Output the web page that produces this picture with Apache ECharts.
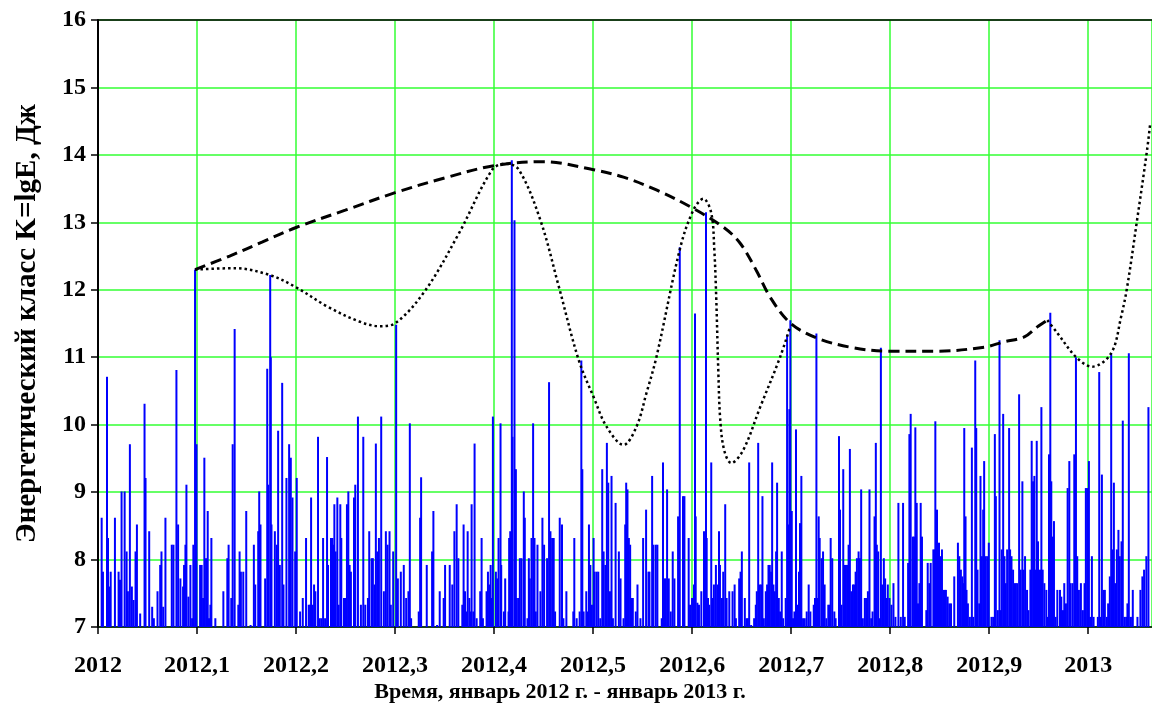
<!DOCTYPE html>
<html><head><meta charset="utf-8">
<script src="https://cdn.jsdelivr.net/npm/echarts@6/dist/echarts.min.js"></script>
<style>html,body{margin:0;padding:0;background:#fff}#c{width:1152px;height:727px}</style>
</head><body><div id="c"></div>
<script>
// ---- data ----
const xTickLabels = ['2012','2012,1','2012,2','2012,3','2012,4','2012,5','2012,6','2012,7','2012,8','2012,9','2013'];
const yTickValues = [7,8,9,10,11,12,13,14,15,16];

// seismic events: [decimal year, energy class K]
const events = [
[2012.0037,8.62],[2012.0050,7.82],[2012.0091,10.71],[2012.0101,8.32],[2012.0117,7.60],[2012.0128,7.82],[2012.0171,8.62],[2012.0208,7.82],[2012.0222,7.70],[2012.0238,9.01],
[2012.0269,9.01],[2012.0289,8.12],[2012.0302,7.53],[2012.0322,9.71],[2012.0342,7.60],[2012.0359,7.40],[2012.0379,8.12],[2012.0393,8.52],[2012.0426,7.20],[2012.0470,10.31],
[2012.0480,9.21],[2012.0517,8.42],[2012.0547,7.30],[2012.0564,7.13],[2012.0601,7.53],[2012.0628,7.92],[2012.0641,8.12],[2012.0658,7.30],[2012.0681,8.62],[2012.0745,8.22],
[2012.0762,8.22],[2012.0792,10.81],[2012.0809,8.52],[2012.0832,7.72],[2012.0859,7.60],[2012.0869,7.92],[2012.0883,8.22],[2012.0893,9.11],[2012.0913,7.45],[2012.0933,7.92],
[2012.0950,7.13],[2012.0963,8.22],[2012.0980,12.30],[2012.0995,9.71],[2012.1031,7.92],[2012.1047,7.92],[2012.1061,7.43],[2012.1074,9.51],[2012.1091,8.02],[2012.1108,8.72],
[2012.1121,7.13],[2012.1135,7.33],[2012.1145,8.32],[2012.1185,7.13],[2012.1266,7.53],[2012.1306,8.02],[2012.1319,8.22],[2012.1346,7.43],[2012.1360,9.71],[2012.1380,11.42],
[2012.1417,7.33],[2012.1430,8.12],[2012.1443,7.82],[2012.1467,7.82],[2012.1497,8.72],[2012.1541,7.03],[2012.1574,8.22],[2012.1588,7.63],[2012.1618,8.42],[2012.1628,9.01],
[2012.1641,8.52],[2012.1688,7.72],[2012.1709,10.83],[2012.1719,9.11],[2012.1739,12.22],[2012.1745,11.00],[2012.1752,8.52],[2012.1786,8.42],[2012.1806,8.22],[2012.1819,9.91],
[2012.1836,7.92],[2012.1860,10.62],[2012.1873,7.63],[2012.1903,9.21],[2012.1930,9.71],[2012.1947,9.51],[2012.1964,8.92],[2012.1991,8.12],[2012.2007,9.21],[2012.2041,7.23],
[2012.2068,7.43],[2012.2101,8.32],[2012.2128,7.33],[2012.2142,7.33],[2012.2152,8.92],[2012.2168,7.33],[2012.2182,7.63],[2012.2195,7.53],[2012.2222,9.82],[2012.2239,7.13],
[2012.2256,7.13],[2012.2273,8.32],[2012.2293,7.13],[2012.2313,9.52],[2012.2323,7.92],[2012.2353,8.32],[2012.2367,8.32],[2012.2373,8.22],[2012.2387,8.82],[2012.2400,8.12],
[2012.2417,8.92],[2012.2430,7.33],[2012.2447,8.82],[2012.2457,8.32],[2012.2484,7.43],[2012.2501,7.43],[2012.2514,8.82],[2012.2528,9.01],[2012.2541,7.92],[2012.2554,7.82],
[2012.2585,8.92],[2012.2598,9.11],[2012.2625,10.12],[2012.2655,7.33],[2012.2679,9.82],[2012.2699,7.33],[2012.2726,7.43],[2012.2739,8.42],[2012.2763,8.02],[2012.2776,8.02],
[2012.2793,7.63],[2012.2806,9.72],[2012.2820,8.12],[2012.2837,8.32],[2012.2860,10.12],[2012.2887,7.53],[2012.2907,8.42],[2012.2924,8.22],[2012.2944,8.42],[2012.2957,7.33],
[2012.2981,8.12],[2012.3011,11.48],[2012.3028,7.72],[2012.3058,7.82],[2012.3088,7.92],[2012.3112,7.43],[2012.3135,7.53],[2012.3149,10.02],[2012.3162,7.13],[2012.3239,7.23],
[2012.3253,8.62],[2012.3263,9.22],[2012.3320,7.92],[2012.3374,8.12],[2012.3387,8.72],[2012.3424,7.03],[2012.3451,7.53],[2012.3491,7.43],[2012.3505,7.92],[2012.3552,7.92],
[2012.3578,7.63],[2012.3599,8.42],[2012.3622,8.82],[2012.3639,8.02],[2012.3679,7.33],[2012.3692,8.52],[2012.3706,7.53],[2012.3723,7.23],[2012.3733,8.42],[2012.3750,7.43],
[2012.3760,7.23],[2012.3773,8.82],[2012.3790,7.23],[2012.3803,9.72],[2012.3824,7.13],[2012.3860,7.53],[2012.3874,8.32],[2012.3887,7.13],[2012.3924,7.53],[2012.3938,7.82],
[2012.3951,7.63],[2012.3965,7.92],[2012.3978,7.43],[2012.3988,10.12],[2012.4018,7.82],[2012.4032,7.72],[2012.4045,8.32],[2012.4065,10.02],[2012.4072,7.92],[2012.4099,7.23],
[2012.4112,7.72],[2012.4146,7.23],[2012.4152,8.32],[2012.4163,8.42],[2012.4179,13.92],[2012.4186,9.82],[2012.4206,13.03],[2012.4220,9.34],[2012.4226,7.43],[2012.4243,7.43],
[2012.4260,8.02],[2012.4277,8.02],[2012.4300,9.01],[2012.4310,8.62],[2012.4337,7.13],[2012.4351,8.02],[2012.4361,7.72],[2012.4378,8.32],[2012.4394,10.02],[2012.4408,8.32],
[2012.4421,7.23],[2012.4438,8.22],[2012.4468,7.53],[2012.4488,8.62],[2012.4505,8.22],[2012.4535,8.02],[2012.4555,10.63],[2012.4569,8.42],[2012.4586,8.32],[2012.4602,8.32],
[2012.4616,7.23],[2012.4663,8.62],[2012.4686,8.52],[2012.4700,7.13],[2012.4730,7.53],[2012.4800,7.23],[2012.4810,8.32],[2012.4834,7.13],[2012.4864,7.23],[2012.4881,10.95],
[2012.4891,9.34],[2012.4904,7.23],[2012.4931,7.53],[2012.4948,7.23],[2012.4958,8.52],[2012.4972,7.92],[2012.4988,7.33],[2012.5005,8.32],[2012.5015,7.82],[2012.5035,7.82],
[2012.5052,7.82],[2012.5072,7.13],[2012.5092,9.34],[2012.5106,8.12],[2012.5123,7.92],[2012.5139,9.73],[2012.5153,9.14],[2012.5170,7.53],[2012.5186,9.24],[2012.5200,7.13],
[2012.5227,8.84],[2012.5260,8.12],[2012.5277,7.72],[2012.5307,7.13],[2012.5324,8.52],[2012.5334,9.14],[2012.5347,9.04],[2012.5361,8.32],[2012.5374,8.22],[2012.5391,7.43],
[2012.5401,7.43],[2012.5431,7.23],[2012.5448,7.63],[2012.5478,7.13],[2012.5505,8.32],[2012.5535,8.74],[2012.5559,7.82],[2012.5569,7.82],[2012.5596,9.24],[2012.5609,8.22],
[2012.5633,8.22],[2012.5649,8.22],[2012.5693,7.13],[2012.5706,9.44],[2012.5720,7.72],[2012.5733,7.72],[2012.5747,9.04],[2012.5764,7.72],[2012.5784,7.23],[2012.5804,8.12],
[2012.5821,7.72],[2012.5858,8.64],[2012.5875,12.63],[2012.5908,8.94],[2012.5922,8.94],[2012.5965,8.32],[2012.5979,7.33],[2012.5999,7.43],[2012.6019,7.63],[2012.6029,11.65],
[2012.6036,8.64],[2012.6053,7.36],[2012.6069,7.33],[2012.6093,7.53],[2012.6120,8.42],[2012.6133,7.82],[2012.6140,13.15],[2012.6147,8.32],[2012.6160,7.43],[2012.6173,7.33],
[2012.6193,9.44],[2012.6207,7.43],[2012.6220,7.63],[2012.6240,7.92],[2012.6257,7.63],[2012.6271,8.42],[2012.6281,7.92],[2012.6301,7.43],[2012.6314,7.82],[2012.6334,8.82],
[2012.6348,7.43],[2012.6375,7.53],[2012.6408,7.53],[2012.6429,7.63],[2012.6442,7.13],[2012.6475,7.72],[2012.6489,7.82],[2012.6502,8.12],[2012.6532,7.43],[2012.6549,7.13],
[2012.6563,7.13],[2012.6576,9.44],[2012.6596,7.03],[2012.6626,7.13],[2012.6643,7.33],[2012.6653,7.53],[2012.6667,9.73],[2012.6683,7.63],[2012.6697,7.63],[2012.6710,8.94],
[2012.6724,7.13],[2012.6744,7.53],[2012.6757,7.63],[2012.6771,7.92],[2012.6784,7.92],[2012.6798,7.82],[2012.6808,9.44],[2012.6821,7.63],[2012.6835,7.53],[2012.6848,8.12],
[2012.6858,9.14],[2012.6875,7.43],[2012.6888,7.23],[2012.6905,8.12],[2012.6919,7.13],[2012.6945,7.43],[2012.6959,11.33],[2012.6972,8.52],[2012.6982,10.23],[2012.6992,11.55],
[2012.7006,8.72],[2012.7019,7.13],[2012.7033,7.23],[2012.7049,9.93],[2012.7063,7.33],[2012.7079,7.82],[2012.7089,8.54],[2012.7103,9.24],[2012.7120,7.13],[2012.7137,7.13],
[2012.7157,7.23],[2012.7177,7.63],[2012.7194,7.23],[2012.7228,7.33],[2012.7241,7.43],[2012.7255,11.35],[2012.7268,7.43],[2012.7278,8.64],[2012.7288,8.32],[2012.7308,8.02],
[2012.7322,8.12],[2012.7338,7.63],[2012.7355,7.13],[2012.7375,7.33],[2012.7389,7.33],[2012.7399,8.32],[2012.7415,8.02],[2012.7436,7.23],[2012.7449,7.13],[2012.7483,9.83],
[2012.7493,8.74],[2012.7509,7.33],[2012.7526,9.34],[2012.7540,7.92],[2012.7553,7.92],[2012.7566,7.92],[2012.7580,8.22],[2012.7593,9.64],[2012.7607,7.53],[2012.7624,7.63],
[2012.7637,7.63],[2012.7651,7.82],[2012.7664,8.02],[2012.7681,8.12],[2012.7694,8.02],[2012.7707,9.04],[2012.7724,7.13],[2012.7744,7.43],[2012.7758,7.43],[2012.7775,7.53],
[2012.7791,9.04],[2012.7808,7.13],[2012.7822,7.23],[2012.7842,8.64],[2012.7855,9.73],[2012.7865,8.22],[2012.7879,8.12],[2012.7892,7.13],[2012.7906,11.14],[2012.7919,7.63],
[2012.7936,8.02],[2012.7949,7.72],[2012.7963,7.43],[2012.7976,7.63],[2012.7993,7.43],[2012.8013,7.33],[2012.8033,7.65],[2012.8053,7.15],[2012.8083,8.84],[2012.8107,7.15],
[2012.8130,8.84],[2012.8147,7.15],[2012.8181,7.95],[2012.8194,9.86],[2012.8207,10.16],[2012.8228,8.34],[2012.8241,8.34],[2012.8254,9.96],[2012.8268,8.84],[2012.8281,7.35],
[2012.8295,7.65],[2012.8308,8.84],[2012.8321,8.34],[2012.8365,7.25],[2012.8379,7.95],[2012.8395,7.65],[2012.8409,7.95],[2012.8436,8.15],[2012.8449,8.15],[2012.8456,10.05],
[2012.8473,8.74],[2012.8493,8.25],[2012.8510,8.05],[2012.8523,8.15],[2012.8537,7.55],[2012.8553,7.55],[2012.8563,7.55],[2012.8580,7.45],[2012.8597,7.35],[2012.8614,7.35],
[2012.8647,7.75],[2012.8684,8.25],[2012.8698,8.05],[2012.8714,7.85],[2012.8728,7.75],[2012.8738,7.65],[2012.8748,9.95],[2012.8761,8.64],[2012.8771,7.55],[2012.8785,7.35],
[2012.8805,7.15],[2012.8825,9.66],[2012.8839,7.15],[2012.8859,10.95],[2012.8869,9.95],[2012.8882,7.85],[2012.8899,7.35],[2012.8912,9.24],[2012.8926,8.05],[2012.8939,8.74],
[2012.8949,9.46],[2012.8966,8.05],[2012.8983,8.05],[2012.8996,8.25],[2012.9023,7.15],[2012.9040,7.15],[2012.9057,9.86],[2012.9067,8.94],[2012.9087,7.25],[2012.9104,11.25],
[2012.9114,7.25],[2012.9127,8.15],[2012.9141,10.16],[2012.9154,8.05],[2012.9167,7.65],[2012.9181,8.15],[2012.9201,9.95],[2012.9211,8.15],[2012.9225,8.05],[2012.9241,7.85],
[2012.9255,7.65],[2012.9268,7.65],[2012.9282,7.65],[2012.9302,10.45],[2012.9318,7.85],[2012.9335,9.16],[2012.9345,7.85],[2012.9362,8.05],[2012.9382,7.55],[2012.9396,7.25],
[2012.9416,7.85],[2012.9429,9.76],[2012.9443,9.16],[2012.9456,9.24],[2012.9466,7.85],[2012.9480,9.76],[2012.9493,8.27],[2012.9513,7.85],[2012.9527,10.26],[2012.9540,7.85],
[2012.9557,7.65],[2012.9577,7.55],[2012.9590,7.15],[2012.9604,9.56],[2012.9617,11.66],[2012.9627,9.16],[2012.9641,8.34],[2012.9654,8.57],[2012.9671,7.15],[2012.9688,7.55],
[2012.9715,7.55],[2012.9728,7.45],[2012.9745,7.25],[2012.9758,7.65],[2012.9775,7.35],[2012.9792,9.06],[2012.9809,9.46],[2012.9822,7.65],[2012.9842,7.65],[2012.9859,9.56],
[2012.9876,11.00],[2012.9889,8.05],[2012.9906,7.55],[2012.9926,7.65],[2012.9946,7.25],[2012.9963,7.65],[2012.9976,9.06],[2012.9990,9.06],[2013.0007,9.46],[2013.0020,7.15],
[2013.0037,8.05],[2013.0054,7.15],[2013.0097,7.15],[2013.0111,10.78],[2013.0124,7.15],[2013.0138,9.26],[2013.0154,7.55],[2013.0168,7.55],[2013.0188,7.15],[2013.0201,7.35],
[2013.0218,7.75],[2013.0232,11.05],[2013.0245,8.15],[2013.0259,9.14],[2013.0272,7.65],[2013.0289,8.15],[2013.0305,8.44],[2013.0319,8.05],[2013.0336,8.27],[2013.0349,10.06],
[2013.0366,7.15],[2013.0383,7.15],[2013.0396,7.35],[2013.0410,11.06],[2013.0426,7.15],[2013.0443,7.15],[2013.0450,7.55],[2013.0497,7.15],[2013.0527,7.55],[2013.0547,7.75],
[2013.0564,7.85],[2013.0587,8.05],[2013.0608,10.26]
];

// dashed envelope curve: [decimal year, K]
const envelopeCurve = [
[2012.0980,12.30],[2012.1329,12.50],[2012.1662,12.71],[2012.1994,12.92],[2012.2497,13.18],[2012.3001,13.44],[2012.3505,13.66],
[2012.3998,13.84],[2012.4502,13.90],[2012.5005,13.78],[2012.5307,13.67],[2012.5639,13.48],[2012.5982,13.23],[2012.6314,12.93],
[2012.6485,12.69],[2012.6647,12.29],[2012.6788,11.89],[2012.6989,11.51],[2012.7251,11.29],[2012.7593,11.15],[2012.7976,11.09],
[2012.8479,11.09],[2012.8953,11.15],[2012.9154,11.23],[2012.9355,11.30],[2012.9486,11.45],[2012.9587,11.55]
];

// dotted curve, first part
const dottedCurveA = [
[2012.0980,12.30],[2012.1380,12.32],[2012.1732,12.22],[2012.1984,12.05],[2012.2319,11.75],[2012.2638,11.53],[2012.2840,11.46],
[2012.3008,11.51],[2012.3310,12.00],[2012.3646,12.84],[2012.3981,13.78],[2012.4116,13.87],[2012.4250,13.78],[2012.4468,13.03],
[2012.4653,12.05],[2012.4854,10.96],[2012.5005,10.41],[2012.5136,9.97],[2012.5307,9.70],[2012.5438,9.97],[2012.5539,10.47],
[2012.5639,11.00],[2012.5881,12.63],[2012.6012,13.18],[2012.6113,13.35],[2012.6193,13.14],[2012.6224,12.59],[2012.6244,11.85],
[2012.6264,10.81],[2012.6284,10.07],[2012.6324,9.62],[2012.6395,9.43],[2012.6515,9.62],[2012.6687,10.26],[2012.6888,11.00],
[2012.6989,11.45]
];

// dotted curve, second part
const dottedCurveB = [
[2012.9587,11.55],[2012.9688,11.36],[2012.9879,11.00],[2013.0040,10.86],[2013.0232,11.06],[2013.0332,11.60],[2013.0393,12.04],
[2013.0493,13.03],[2013.0594,14.07],[2013.0624,14.44]
];

// ---- chart ----
const FONT = "'Liberation Serif','Times New Roman',serif";
const chart = echarts.init(document.getElementById('c'), null, {renderer:'canvas'});
const gridGreen = '#33ff33';
const X_MAX = 2013.0644;

chart.setOption({
  animation: false,
  backgroundColor: '#ffffff',
  grid: {left: 98, right: -3, top: 20, bottom: 100, containLabel: false},
  xAxis: [{
    type: 'value', min: 2012, max: X_MAX, interval: 0.1,
    axisLine: {show: true, onZero: false, lineStyle: {color: '#000', width: 1.5}},
    axisTick: {show: true, inside: false, length: 7, lineStyle: {color: '#000', width: 1.5}},
    axisLabel: {
      show: true, margin: 27, showMaxLabel: false, color: '#000',
      fontFamily: FONT, fontWeight: 'bold', fontSize: 24,
      formatter: function (v) { const i = Math.round((v - 2012) * 10); return xTickLabels[i] || ''; }
    },
    splitLine: {show: true, lineStyle: {color: gridGreen, width: 1.5}}
  }, {
    type: 'value', position: 'top', min: 2012, max: X_MAX,
    axisLine: {show: true, lineStyle: {color: '#000', width: 1.5}},
    axisTick: {show: false}, axisLabel: {show: false}, splitLine: {show: false}
  }],
  yAxis: {
    type: 'value', min: yTickValues[0], max: yTickValues[yTickValues.length - 1], interval: 1,
    name: 'Энергетический класс K=lgE, Дж',
    nameLocation: 'middle', nameGap: 56,
    nameTextStyle: {fontFamily: FONT, fontWeight: 'bold', fontSize: 29, color: '#000'},
    axisLine: {show: true, onZero: false, lineStyle: {color: '#000', width: 2}},
    axisTick: {show: true, inside: false, length: 7, lineStyle: {color: '#000', width: 1.5}},
    axisLabel: {margin: 12, color: '#000', fontFamily: FONT, fontWeight: 'bold', fontSize: 24},
    splitLine: {show: true, lineStyle: {color: gridGreen, width: 1.5}}
  },
  graphic: [{
    type: 'text', x: 560, y: 692,
    style: {text: 'Время, январь 2012 г. - январь 2013 г.', font: "bold 22px 'Liberation Serif','Times New Roman',serif",
            fill: '#000', textAlign: 'center', textVerticalAlign: 'middle'}
  }],
  series: [{
    type: 'custom', name: 'events', z: 2, clip: true,
    encode: {x: 0, y: 1},
    data: events,
    renderItem: function (params, api) {
      const t = api.value(0), k = api.value(1);
      const p0 = api.coord([t, 7]);
      const p1 = api.coord([t, k]);
      return {type: 'line', shape: {x1: p0[0], y1: p0[1], x2: p1[0], y2: p1[1]},
              style: {stroke: '#0000ff', lineWidth: 2}};
    }
  }, {
    type: 'line', name: 'envelope', z: 4, data: envelopeCurve, showSymbol: false, symbol: 'none',
    smooth: 0.35, clip: true,
    lineStyle: {color: '#000', width: 3, type: [11, 6], cap: 'butt'}
  }, {
    type: 'line', name: 'dottedA', z: 4, data: dottedCurveA, showSymbol: false, symbol: 'none',
    smooth: 0.35, clip: true,
    lineStyle: {color: '#000', width: 2.5, type: [2.5, 3], cap: 'butt'}
  }, {
    type: 'line', name: 'dottedB', z: 4, data: dottedCurveB, showSymbol: false, symbol: 'none',
    smooth: 0.35, clip: true,
    lineStyle: {color: '#000', width: 2.5, type: [2.5, 3], cap: 'butt'}
  }]
});
</script>
</body></html>
